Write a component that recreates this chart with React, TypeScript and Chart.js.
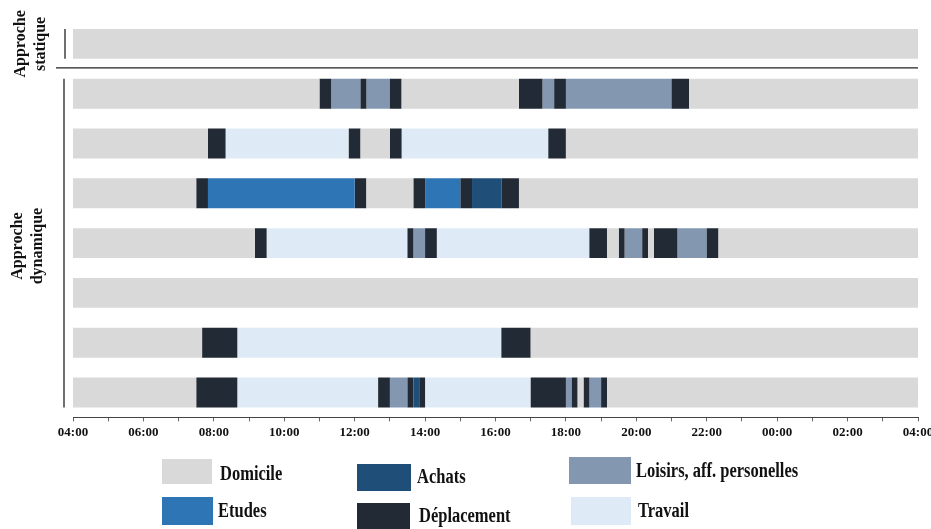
import { useEffect, useRef } from 'react';
import { Chart, registerables } from 'chart.js';

Chart.register(...registerables);

// ---- Data ----
const categories = ['Domicile', 'Etudes', 'Achats', 'Déplacement', 'Loisirs, aff. personelles', 'Travail'];
const categoryColors = ['#d9d9d9', '#2e75b6', '#1f4e79', '#222a35', '#8497b0', '#deebf7'];

const rowLabels = ['Statique', 'Dynamique 1', 'Dynamique 2', 'Dynamique 3', 'Dynamique 4', 'Dynamique 5', 'Dynamique 6', 'Dynamique 7'];

const xTickLabels = ['04:00', '06:00', '08:00', '10:00', '12:00', '14:00', '16:00', '18:00', '20:00', '22:00', '00:00', '02:00', '04:00'];

// Each row: sequence of [activity, end time]; starts at 04:00, "28:00" = 04:00 next day
const dayStart = '04:00';
const rowStatic: [string, string][] = [['Domicile', '28:00']];
const rowDyn1: [string, string][] = [
  ['Domicile', '11:00'], ['Déplacement', '11:20'], ['Loisirs, aff. personelles', '12:10'], ['Déplacement', '12:20'],
  ['Loisirs, aff. personelles', '13:00'], ['Déplacement', '13:20'], ['Domicile', '16:40'], ['Déplacement', '17:20'],
  ['Loisirs, aff. personelles', '17:40'], ['Déplacement', '18:00'], ['Loisirs, aff. personelles', '21:00'],
  ['Déplacement', '21:30'], ['Domicile', '28:00'],
];
const rowDyn2: [string, string][] = [
  ['Domicile', '07:50'], ['Déplacement', '08:20'], ['Travail', '11:50'], ['Déplacement', '12:10'], ['Domicile', '13:00'],
  ['Déplacement', '13:20'], ['Travail', '17:30'], ['Déplacement', '18:00'], ['Domicile', '28:00'],
];
const rowDyn3: [string, string][] = [
  ['Domicile', '07:30'], ['Déplacement', '07:50'], ['Etudes', '12:00'], ['Déplacement', '12:20'], ['Domicile', '13:40'],
  ['Déplacement', '14:00'], ['Etudes', '15:00'], ['Déplacement', '15:20'], ['Achats', '16:10'], ['Déplacement', '16:40'],
  ['Domicile', '28:00'],
];
const rowDyn4: [string, string][] = [
  ['Domicile', '09:10'], ['Déplacement', '09:30'], ['Travail', '13:30'], ['Déplacement', '13:40'],
  ['Loisirs, aff. personelles', '14:00'], ['Déplacement', '14:20'], ['Travail', '18:40'], ['Déplacement', '19:10'],
  ['Domicile', '19:30'], ['Déplacement', '19:40'], ['Loisirs, aff. personelles', '20:10'], ['Déplacement', '20:20'],
  ['Domicile', '20:30'], ['Déplacement', '21:10'], ['Loisirs, aff. personelles', '22:00'], ['Déplacement', '22:20'],
  ['Domicile', '28:00'],
];
const rowDyn5: [string, string][] = [['Domicile', '28:00']];
const rowDyn6: [string, string][] = [
  ['Domicile', '07:40'], ['Déplacement', '08:40'], ['Travail', '16:10'], ['Déplacement', '17:00'], ['Domicile', '28:00'],
];
const rowDyn7: [string, string][] = [
  ['Domicile', '07:30'], ['Déplacement', '08:40'], ['Travail', '12:40'], ['Déplacement', '13:00'],
  ['Loisirs, aff. personelles', '13:30'], ['Déplacement', '13:40'], ['Achats', '13:50'], ['Déplacement', '14:00'],
  ['Travail', '17:00'], ['Déplacement', '18:00'], ['Loisirs, aff. personelles', '18:10'], ['Déplacement', '18:20'],
  ['Domicile', '18:30'], ['Déplacement', '18:40'], ['Loisirs, aff. personelles', '19:00'], ['Déplacement', '19:10'],
  ['Domicile', '28:00'],
];
const rows = [rowStatic, rowDyn1, rowDyn2, rowDyn3, rowDyn4, rowDyn5, rowDyn6, rowDyn7];

const groupLabels = [
  ['Approche', 'statique'],
  ['Approche', 'dynamique'],
];

// ---- Helpers ----
const toHours = (s: string) => {
  const [h, m] = s.split(':').map(Number);
  return h + m / 60;
};

function buildDatasets() {
  return categories.map((cat, ci) => ({
    label: cat,
    backgroundColor: categoryColors[ci],
    data: rows.flatMap((row, ri) => {
      let start = toHours(dayStart);
      const out: { x: [number, number]; y: string }[] = [];
      for (const [c, end] of row) {
        const e = toHours(end);
        if (c === cat) out.push({ x: [start, e], y: rowLabels[ri] });
        start = e;
      }
      return out;
    }),
  }));
}

// legend layout (swatch rect + text anchor)
const legendLayout = [
  { rx: 162, ry: 459, rw: 50, rh: 25, tx: 220, ty: 475 },
  { rx: 162, ry: 497, rw: 51, rh: 28, tx: 218, ty: 512 },
  { rx: 357, ry: 464, rw: 54, rh: 27, tx: 417, ty: 478 },
  { rx: 357, ry: 503, rw: 53, rh: 27, tx: 419, ty: 517 },
  { rx: 569, ry: 457, rw: 62, rh: 27, tx: 636, ty: 472 },
  { rx: 571, ry: 497, rw: 60, rh: 28, tx: 638, ty: 512 },
];

const decorPlugin = {
  id: 'decor',
  afterDraw(chart: any) {
    const ctx = chart.ctx as CanvasRenderingContext2D;
    const y = chart.scales.y;
    const area = chart.chartArea;
    const step = y.getPixelForValue(1) - y.getPixelForValue(0);
    const half = step * 0.3;
    const c0 = y.getPixelForValue(0);
    const c1 = y.getPixelForValue(1);
    const cLast = y.getPixelForValue(rowLabels.length - 1);

    ctx.save();
    ctx.strokeStyle = '#222';
    ctx.lineWidth = 1.3;
    // static bracket line
    ctx.beginPath();
    ctx.moveTo(area.left - 8, c0 - half);
    ctx.lineTo(area.left - 8, c0 + half);
    ctx.stroke();
    // dynamic bracket line
    ctx.beginPath();
    ctx.moveTo(area.left - 9, c1 - half);
    ctx.lineTo(area.left - 9, cLast + half);
    ctx.stroke();
    // separator
    const sepY = (c0 + c1) / 2 - 1;
    ctx.beginPath();
    ctx.moveTo(area.left - 17, sepY);
    ctx.lineTo(area.right, sepY);
    ctx.stroke();

    // group labels
    ctx.fillStyle = '#111';
    ctx.font = "bold 16px 'Liberation Serif', serif";
    ctx.textAlign = 'center';
    ctx.textBaseline = 'middle';
    const groups = [
      { x: 31, y: c0 },
      { x: 28, y: (c1 + cLast) / 2 + 3 },
    ];
    groups.forEach((g, gi) => {
      ctx.save();
      ctx.translate(g.x, g.y);
      ctx.rotate(-Math.PI / 2);
      ctx.fillText(groupLabels[gi][0], 0, -10);
      ctx.fillText(groupLabels[gi][1], 0, 10);
      ctx.restore();
    });

    // legend
    categories.forEach((cat, i) => {
      const L = legendLayout[i];
      ctx.fillStyle = categoryColors[i];
      ctx.fillRect(L.rx, L.ry, L.rw, L.rh);
      ctx.save();
      ctx.translate(L.tx, L.ty);
      ctx.scale(0.97, 1.18);
      ctx.fillStyle = '#111';
      ctx.font = "bold 17px 'Liberation Serif', serif";
      ctx.textAlign = 'left';
      ctx.textBaseline = 'middle';
      ctx.fillText(cat, 0, 0);
      ctx.restore();
    });
    ctx.restore();
  },
};

export default function App() {
  const ref = useRef<HTMLCanvasElement | null>(null);

  useEffect(() => {
    if (!ref.current) return;
    const chart = new Chart(ref.current, {
      type: 'bar',
      data: { labels: rowLabels, datasets: buildDatasets() as any },
      options: {
        indexAxis: 'y',
        responsive: false,
        animation: false,
        events: [],
        layout: { padding: { left: 73, right: 27, top: 19, bottom: 86 } },
        datasets: {
          bar: { grouped: false, barPercentage: 0.6, categoryPercentage: 1, borderWidth: 0 },
        },
        plugins: { legend: { display: false }, tooltip: { enabled: false } },
        scales: {
          x: {
            type: 'linear',
            min: 4,
            max: 28,
            ticks: {
              stepSize: 1,
              autoSkip: false,
              maxRotation: 0,
              padding: 3,
              color: '#111',
              font: { family: "'Liberation Serif', serif", weight: 'bold', size: 13 },
              callback: (v: any) => {
                const n = Number(v);
                return n % 2 === 0 ? xTickLabels[(n - 4) / 2] : '';
              },
            },
            grid: { drawOnChartArea: false, drawTicks: true, tickLength: 4, color: '#666' },
            border: { display: true, color: '#444', width: 1 },
          },
          y: { type: 'category', display: false, offset: true },
        },
      } as any,
      plugins: [decorPlugin],
    });
    return () => chart.destroy();
  }, []);

  return (
    <div style={{ position: 'fixed', left: 0, top: 0, width: 931, height: 529, overflow: 'hidden', background: '#fff' }}>
      <canvas ref={ref} width={945} height={529} style={{ width: 945, height: 529, display: 'block' }} />
    </div>
  );
}
